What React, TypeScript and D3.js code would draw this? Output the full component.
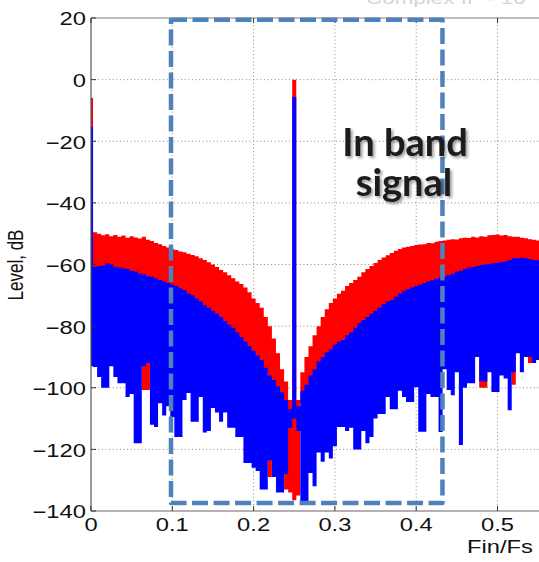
import React from "react";
import * as d3 from "d3";

const STEP = 0.005;

const redTop = [
  -6, -49.5, -50, -50.5, -50.2, -50.8, -50.4, -51, -50.6, -51.3,
  -50.8, -51.2, -51.6, -51, -52, -52.4, -53, -53.4, -54, -54.5,
  -55, -55.3, -55.8, -56, -56.5, -56.9, -57.3, -58, -58.5, -59.3,
  -60, -60.8, -61.8, -62.5, -63.5, -64.5, -65.5, -66.3, -67.5, -69,
  -71, -72.5, -74, -77, -80, -84, -88.8, -94, -98, -104,
  0, -104, -95, -90, -86.5, -83, -80, -77, -74.5, -72.5,
  -71, -69.5, -68.5, -67, -66, -65, -64, -62.5, -61.5, -60.5,
  -59.5, -58.5, -57.7, -57, -56.3, -55.5, -55, -54.5, -54.2, -54,
  -53.7, -53.5, -53.4, -53, -53.1, -52.6, -52.4, -52.2, -52, -51.8,
  -51.9, -51.5, -51.3, -51.4, -51, -51.2, -50.8, -51, -50.5, -50.4,
  -50.3, -50.6, -50.4, -50.8, -51, -51, -51.3, -51.5, -51.8, -52,
  -52.2, -52.4,
];

const redBottom = [
  -85, -85, -85, -85, -85, -85, -85, -85, -85, -85,
  -85, -85, -85, -100.7, -100.7, -85, -85, -85, -85, -85,
  -85, -85, -85, -85, -85, -85, -85, -85, -85, -85,
  -85, -85, -85, -85, -85, -85, -95, -95, -95, -95,
  -95, -95, -95, -95, -129, -105, -108, -110, -133, -134,
  -136.5, -135, -105, -102, -99, -97, -95, -95, -95, -95,
  -95, -95, -95, -95, -95, -85, -85, -85, -85, -85,
  -85, -85, -85, -85, -85, -85, -85, -85, -85, -85,
  -85, -85, -85, -85, -85, -85, -85, -85, -85, -85,
  -85, -85, -85, -85, -85, -85, -100, -100, -85, -85,
  -85, -85, -85, -85, -99, -85, -85, -85, -92, -85,
  -85, -85,
];

const blueTop = [
  -15.4, -60.7, -60.5, -60.3, -59.6, -60, -60.8, -61, -61.2, -61.5,
  -62, -62.3, -62.9, -63.2, -63.8, -64, -64.5, -65, -65.5, -66,
  -66.5, -67, -67.7, -68.3, -69.4, -70, -71, -72, -73.2, -74,
  -75, -76, -77, -78.3, -79.5, -80.5, -82, -83.5, -85, -86.5,
  -88, -89.5, -91, -93.5, -96, -97.5, -99.5, -101.5, -104, -107,
  -5.6, -106, -101, -99, -96, -94, -91.5, -90, -88.5, -87.5,
  -86, -85, -84.5, -83, -82, -80.5, -79, -78, -77, -76,
  -75, -74, -72.8, -72, -71.5, -70.5, -69.5, -68.5, -68, -67.5,
  -67, -66.5, -66, -65.5, -65, -64.6, -64.2, -63.8, -63.4, -63,
  -62.3, -62, -61.5, -61, -60.8, -60.5, -60.2, -60, -59.8, -59.6,
  -59.4, -59.2, -59, -58.5, -58, -58, -57.8, -58, -58.2, -58.5,
  -58.6, -58.8,
];

const blueBottom = [
  -93, -93.3, -96.5, -100, -100, -93, -96.5, -98.5, -98.5, -103,
  -102, -118, -118, -93, -92, -112, -112.7, -105, -109, -106,
  -109.5, -116, -116, -104, -101.7, -111, -111, -103, -114.5, -114,
  -106.6, -108, -111, -108, -113, -113, -116, -116, -124.4, -124.4,
  -126, -127, -133, -133, -123.5, -129, -134, -134, -128, -113,
  -110, -114, -138, -138, -127.7, -132, -121, -124, -121, -123,
  -119, -112.7, -112.7, -114, -113, -120, -120, -114, -118, -116,
  -110, -108.5, -108.5, -103, -107, -107, -101, -103, -104.6, -104.6,
  -99.8, -114.3, -114.3, -102, -103, -103, -114.4, -94, -100.7, -102.4,
  -95, -118.6, -100, -98.5, -98.5, -90, -98, -98, -95, -101.4,
  -101.4, -96, -97, -107.3, -95, -88.8, -95, -90, -90, -92,
  -91, -92,
];

const xTicks = [0, 0.1, 0.2, 0.3, 0.4, 0.5];
const yTicks = [20, 0, -20, -40, -60, -80, -100, -120, -140];
const xLabel = "Fin/Fs";
const yLabel = "Level, dB";
const noteLines = ["In band", "signal"];
const topTitle = "Complex IF - 16";

// In-band annotation box (in data units)
const bandFrom = 0.0984;
const bandTo = 0.4323;
const bandHigh = 19.4;
const bandLow = -137.4;

const W = 539;
const H = 562;
const left = 91;
const top = 18;
const bottom = 511;
const pxPerUnit = 813;

const fmt = (v: number) => (v < 0 ? "\u2212" + Math.abs(v) : String(v));

export default function App() {
  const x = d3.scaleLinear().domain([0, 0.6]).range([left, left + 0.6 * pxPerUnit]);
  const y = d3.scaleLinear().domain([-140, 20]).range([bottom, top]);
  const idx = d3.range(redTop.length);

  const mkArea = (tp: number[], bt: number[]) =>
    d3
      .area<number>()
      .x((i) => x(i * STEP))
      .y0((i) => y(bt[i]))
      .y1((i) => y(tp[i]))
      .curve(d3.curveStep)(idx) || "";

  const redPath = mkArea(redTop, redBottom);
  const bluePath = mkArea(blueTop, blueBottom);

  const axisFont = "'Liberation Sans', Arial, Helvetica, sans-serif";
  const sx = 1.32;

  return (
    <svg
      width={W}
      height={H}
      style={{ position: "fixed", left: 0, top: 0, background: "#fff" }}
    >
      <defs>
        <clipPath id="plot">
          <rect x={left} y={top} width={W - left} height={bottom - top} />
        </clipPath>
        <filter id="shadow" x="-20%" y="-20%" width="140%" height="140%">
          <feDropShadow dx="2" dy="2" stdDeviation="1.4" floodColor="#000" floodOpacity="0.4" />
        </filter>
      </defs>
      <rect x={0} y={0} width={W} height={H} fill="#fff" />

      {/* faint clipped title */}
      <text
        fontFamily={axisFont}
        fontSize={17}
        fill="#d4d4d4"
        transform={`translate(366,4) scale(${sx},1)`}
      >
        {topTitle}
      </text>

      {/* grid */}
      <g stroke="#8a8a8a" strokeWidth={1} strokeDasharray="1 2.6">
        {xTicks
          .filter((t) => t > 0)
          .map((t) => (
            <line key={"gx" + t} x1={x(t)} x2={x(t)} y1={top} y2={bottom} />
          ))}
        {yTicks
          .filter((t) => t > -140 && t < 20)
          .map((t) => (
            <line key={"gy" + t} x1={left} x2={W} y1={y(t)} y2={y(t)} />
          ))}
      </g>

      {/* spectra */}
      <g clipPath="url(#plot)">
        <path d={redPath} fill="#ff0000" />
        <path d={bluePath} fill="#0000ff" />
      </g>

      {/* axes box */}
      <line x1={left} x2={W} y1={top} y2={top} stroke="#a8a8a8" strokeWidth={1.5} />
      <line x1={left} x2={W} y1={bottom} y2={bottom} stroke="#999" strokeWidth={1.5} />
      <line x1={left} x2={left} y1={top} y2={bottom} stroke="#555" strokeWidth={1.2} />
      <g stroke="#333" strokeWidth={1}>
        {xTicks.map((t) => (
          <g key={"tx" + t}>
            <line x1={x(t)} x2={x(t)} y1={bottom} y2={bottom - 5} />
            <line x1={x(t)} x2={x(t)} y1={top} y2={top + 5} />
          </g>
        ))}
        {yTicks.map((t) => (
          <line key={"ty" + t} x1={left} x2={left + 5} y1={y(t)} y2={y(t)} />
        ))}
      </g>

      {/* tick labels */}
      <g fontFamily={axisFont} fontSize={18} fill="#111">
        {yTicks.map((t) => (
          <text
            key={"ly" + t}
            textAnchor="end"
            dominantBaseline="central"
            transform={`translate(${left - 5},${y(t) + 1}) scale(${sx},1)`}
          >
            {fmt(t)}
          </text>
        ))}
        {xTicks.map((t) => (
          <text
            key={"lx" + t}
            textAnchor="middle"
            transform={`translate(${x(t)},${bottom + 20}) scale(${sx},1)`}
          >
            {String(t)}
          </text>
        ))}
        <text textAnchor="end" transform={`translate(533,553) scale(${sx},1)`}>
          {xLabel}
        </text>
        <text
          textAnchor="middle"
          fontSize={17}
          transform={`translate(23,265) rotate(-90) scale(1,${sx})`}
        >
          {yLabel}
        </text>
      </g>

      {/* in-band dashed box */}
      <rect
        x={x(bandFrom)}
        y={y(bandHigh)}
        width={x(bandTo) - x(bandFrom)}
        height={y(bandLow) - y(bandHigh)}
        fill="none"
        stroke="#4f81bd"
        strokeWidth={4.5}
        strokeDasharray="16 5.5"
        strokeLinejoin="round"
      />

      {/* annotation */}
      <g
        fontFamily="Lato, 'Open Sans', sans-serif"
        fontWeight="bold"
        fontSize={38}
        fill="#1a1a1a"
        textAnchor="middle"
        filter="url(#shadow)"
      >
        <text x={405} y={156}>
          {noteLines[0]}
        </text>
        <text x={404} y={196}>
          {noteLines[1]}
        </text>
      </g>
    </svg>
  );
}
